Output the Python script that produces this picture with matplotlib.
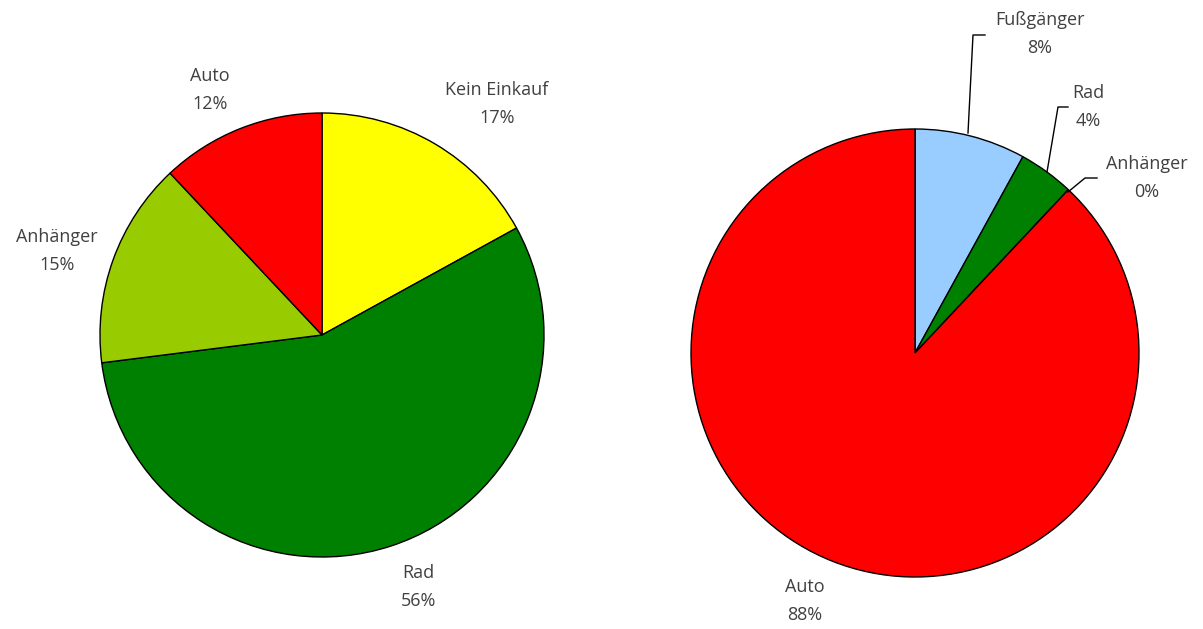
import matplotlib.pyplot as plt

# data
left_labels = ["Kein Einkauf", "Rad", "Anhänger", "Auto"]
left_values = [17, 56, 15, 12]
left_colors = ["#FFFF00", "#008000", "#99CC00", "#FF0000"]

right_labels = ["Fußgänger", "Rad", "Anhänger", "Auto"]
right_values = [8, 4, 0, 88]
right_colors = ["#99CCFF", "#008000", "#FF0000", "#FF0000"]

W, H = 1203, 629
fig = plt.figure(figsize=(W / 100, H / 100), dpi=100)
ax = fig.add_axes([0, 0, 1, 1])

wp = dict(edgecolor="black", linewidth=1)
ax.pie(left_values, colors=left_colors, startangle=90, counterclock=False,
       center=(322, H - 335), radius=222, wedgeprops=wp, frame=True)
ax.pie(right_values, colors=right_colors, startangle=90, counterclock=False,
       center=(915, H - 353), radius=224, wedgeprops=wp, frame=True)
ax.set_xlim(0, W)
ax.set_ylim(0, H)
ax.set_aspect("equal")
ax.axis("off")

txt = dict(ha="center", va="center", color="#404040", fontsize=13,
           family="Open Sans", linespacing=1.65)

# left labels (pixel positions of label centres)
left_pos = [(497, 104), (418, 587), (57, 251), (210, 90)]
for lab, v, (x, y) in zip(left_labels, left_values, left_pos):
    ax.text(x, H - y, f"{lab}\n{v}%", **txt)

# right labels with leader lines
right_pos = [(1040, 34), (1088, 107), (1147, 178), (805, 601)]
leaders = [
    [(968, 133), (973, 35), (985, 35)],
    [(1047, 172), (1058, 107), (1068, 107)],
    [(1068, 192), (1085, 178), (1097, 178)],
    None,
]
for lab, v, (x, y), ld in zip(right_labels, right_values, right_pos, leaders):
    ax.text(x, H - y, f"{lab}\n{v}%", **txt)
    if ld:
        xs = [p[0] for p in ld]
        ys = [H - p[1] for p in ld]
        ax.plot(xs, ys, color="black", linewidth=1)

fig.savefig("out.png", dpi=100, facecolor="white")
